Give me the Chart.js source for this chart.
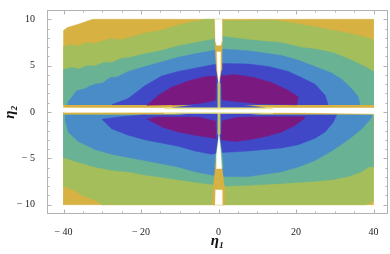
<!DOCTYPE html>
<html>
<head>
<meta charset="utf-8">
<script src="https://cdn.jsdelivr.net/npm/chart.js@4.4.1/dist/chart.umd.min.js"></script>
<style>
  html, body { margin: 0; padding: 0; background: #fff; }
  canvas { display: block; }
</style>
</head>
<body>
<canvas id="chart" width="390" height="254"></canvas>
<script>
// axis ranges and ticks
const xRange = [-44.26, 43.74];
const yRange = [-11, 11];
const xTicks = [-40, -20, 0, 20, 40];
const yTicks = [-10, -5, 0, 5, 10];
const xMinor = [-40, -35, -30, -25, -20, -15, -10, -5, 0, 5, 10, 15, 20, 25, 30, 35, 40];
const yMinor = [-10, -9, -8, -7, -6, -5, -4, -3, -2, -1, 0, 1, 2, 3, 4, 5, 6, 7, 8, 9, 10];

// contour regions (eta1, eta2), outer levels first
const upperGold = [[-40,0.45],[-40,8.8],[-39,9.1],[-36,9.5],[-32.5,10],[40,10],[40,0.45]];
const lowerGold = [[-40,-0.05],[-40,-10],[40,-10],[40,-0.05]];
const upperGreen = [[-40,0.75],[-40,7.0],[-38,7.3],[-36.5,7.1],[-34,7.5],[-32,7.4],[-28,7.9],[-25,7.8],[-19,8.5],[-15,8.8],[-10,9.4],[-7,9.7],[-3.5,10],[0,10],[0.8,9.85],[14.6,9.9],[20.6,9.5],[24.9,9.2],[29.2,8.85],[33.5,8.5],[37,8.16],[40,7.8],[40,0.75]];
const lowerGreen = [[-40,-0.3],[-40,-8.0],[-37,-8.5],[-35.3,-9.0],[-31.9,-9.5],[-30,-10],[38,-10],[40,-9.6],[40,-0.3]];
const upperTeal = [[-40,0.75],[-40,4.55],[-38,4.8],[-36,4.65],[-34,5.0],[-31.9,4.95],[-29.5,5.35],[-27.6,5.3],[-25,5.8],[-23.3,5.85],[-19,6.27],[-14.7,6.62],[-10.4,7.13],[-6.1,7.47],[-1.8,7.8],[0.8,8.16],[7.7,7.8],[16.3,7.47],[21.5,6.96],[24.9,6.8],[29.2,6.44],[33.5,5.75],[37,5.07],[40,4.38],[40,0.75]];
const lowerTeal = [[-40,-0.3],[-40,-4.9],[-36.2,-5.41],[-31.9,-5.93],[-27.6,-6.27],[-23.3,-6.44],[-19,-6.79],[-14.7,-7.03],[-10.4,-7.3],[-6.1,-7.58],[-1.8,-7.8],[0.8,-8.0],[7.7,-7.9],[16.3,-7.7],[24.9,-7.47],[29.2,-7.3],[33.5,-6.96],[37,-6.44],[38.7,-5.93],[40,-5.9],[40,-0.3]];
const upperSky = [[-39,0.75],[-38.8,1.1],[-36.6,2.3],[-34.5,2.5],[-33.2,2.8],[-31.9,3.0],[-30,3.1],[-28,3.7],[-26,3.8],[-23.3,4.38],[-19,4.9],[-14.7,5.4],[-10.4,5.9],[-6.1,6.27],[-1.8,6.6],[0.8,6.8],[7.7,6.6],[16.3,6.1],[20.6,5.58],[24.9,4.9],[29.2,4.2],[31.8,3.52],[34.4,2.5],[36.1,1.63],[36.5,0.75]];
const lowerSky = [[-39.5,-0.3],[-39.5,-1.0],[-38.8,-2.15],[-36.2,-3.18],[-31.9,-4.04],[-27.6,-4.55],[-23.3,-4.9],[-19,-5.24],[-14.7,-5.58],[-10.4,-5.93],[-6.1,-6.44],[-1.8,-6.79],[0.8,-6.96],[7.7,-6.96],[16.3,-6.44],[20.6,-5.93],[24.9,-5.24],[29.2,-4.2],[33.5,-3.0],[37,-1.8],[39.2,-0.77],[39.7,-0.3]];
const upperBlue = [[-27.5,0.75],[-27.1,0.85],[-23.3,1.46],[-19,2.83],[-14.7,3.87],[-10.4,4.38],[-6.1,4.72],[-1.8,5.07],[0.8,5.24],[7.7,5.17],[12.9,4.9],[18,4.38],[21.5,3.7],[24.9,3.0],[27.5,1.8],[28.3,0.75]];
const lowerBlue = [[-19,-0.3],[-25,-0.5],[-30.1,-0.77],[-27.6,-1.8],[-23.3,-2.5],[-19,-3.0],[-14.7,-3.35],[-10.4,-3.7],[-6.1,-4.2],[-1.8,-4.55],[0.8,-4.38],[7.7,-4.2],[16.3,-3.87],[20.6,-3.52],[24.9,-2.84],[27.5,-2.15],[29.6,-1.12],[30.5,-0.3]];
const upperPurple = [[-18.5,0.7],[-15.5,1.8],[-12.1,2.66],[-7.8,3.35],[-3.5,3.8],[0,3.87],[4.3,4.04],[9.4,3.7],[13.7,3.18],[18,2.32],[20.6,1.63],[20.2,0.77],[10,0.9],[0.8,1.3],[-0.5,1.1],[-6,0.85],[-12,0.75]];
const lowerPurple = [[-18.5,-0.77],[-16,-0.55],[0,-0.55],[22.4,-0.5],[21.9,-0.77],[19.7,-1.46],[16.3,-2.15],[12,-2.66],[7.7,-3.0],[4.3,-3.18],[0.8,-3.0],[-1.8,-2.77],[-6.1,-2.5],[-10.4,-2.15],[-14.7,-1.63]];

// singular lines along eta1 = 0 and eta2 = 0
const crossHalo = [[-12,0.45],[-4,0.9],[0,1.3],[4,0.9],[12,0.45],[12,-0.05],[4,-0.6],[0,-1.0],[-4,-0.6],[-12,-0.05]];
const upperStem = [[-0.7,0.75],[-0.4,4.2],[0.5,4.2],[0.9,0.75]];
const lowerStem = [[-0.7,-0.3],[-0.4,-3.3],[0.5,-3.3],[0.9,-0.3]];
const lowerSpikeHalo = [[0.1,-2.2],[0.9,-4.5],[1.2,-6],[-1.0,-6],[-0.7,-4.5]];
const upperGapGold = [[-1.1,10],[-0.8,6.4],[-0.5,4.5],[0.1,3.0],[0.7,4.5],[0.9,6.4],[1.1,10]];
const lowerGapGold = [[0.3,-4.8],[0.9,-6],[1.5,-8],[1.6,-10],[-1.6,-10],[-1.3,-8],[-0.8,-6],[-0.3,-4.8]];
const centerLine = [[-0.25,3.1],[0.35,3.1],[0.35,-2.4],[-0.25,-2.4]];
const lineGlow = [[-14,0.45],[14,0.45],[14,-0.15],[-14,-0.15]];
const upperGapWhite1 = [[-0.9,10],[-0.7,7.6],[-0.5,7.2],[0.6,7.2],[0.8,7.6],[0.9,10]];
const upperGapWhite2 = [[-0.4,6.5],[-0.3,4.5],[0.1,3.1],[0.5,4.5],[0.5,6.5]];
const lowerGapWhite1 = [[0.1,-2.4],[0.6,-4.5],[0.8,-6.1],[-0.6,-6.1],[-0.5,-4.5]];
const lowerGapWhite2 = [[-0.8,-8.4],[0.8,-8.4],[0.9,-10],[-0.9,-10]];
const lineWhite = [[-40,0.42],[-20,0.3],[0,0.25],[20,0.3],[40,0.35],[40,-0.2],[20,-0.05],[0,0.0],[-20,0.0],[-40,0.0]];

const GOLD = '#d7b142', GREEN = '#a3be5a', TEAL = '#6ab294', SKY = '#4a8cc8',
      BLUE = '#4048c8', PURPLE = '#7a1a80', PALE = '#e9e48e', STEM = '#c4c866', WHITE = '#ffffff';

// paint order, bottom to top
const layers = [
  [upperGold, GOLD], [lowerGold, GOLD],
  [upperGreen, GREEN], [lowerGreen, GREEN],
  [upperTeal, TEAL], [lowerTeal, TEAL],
  [upperSky, SKY], [lowerSky, SKY],
  [upperBlue, BLUE], [lowerBlue, BLUE],
  [upperPurple, PURPLE], [lowerPurple, PURPLE],
  [crossHalo, BLUE], [upperStem, BLUE], [lowerStem, BLUE], [lowerSpikeHalo, TEAL],
  [upperGapGold, GOLD], [lowerGapGold, GOLD],
  [centerLine, STEM], [lineGlow, PALE],
  [upperGapWhite1, WHITE], [upperGapWhite2, WHITE],
  [lowerGapWhite1, WHITE], [lowerGapWhite2, WHITE],
  [lineWhite, WHITE]
];

const serif = "'Liberation Serif', 'DejaVu Serif', serif";
const fmt = v => v < 0 ? '\u2212 ' + Math.abs(v) : String(v);

// Mathematica-like frame with inward ticks on all four sides
const frameTicks = {
  id: 'frameTicks',
  afterDraw(chart) {
    const { ctx, chartArea: a, scales: { x, y } } = chart;
    ctx.save();
    ctx.strokeStyle = '#b2b2b2';
    ctx.lineWidth = 1;
    ctx.strokeRect(a.left + 0.5, a.top + 0.5, a.right - a.left - 1, a.bottom - a.top - 1);
    ctx.beginPath();
    xMinor.forEach(v => {
      const p = Math.round(x.getPixelForValue(v)) + 0.5;
      const len = xTicks.includes(v) ? 4.5 : 2.5;
      ctx.moveTo(p, a.bottom); ctx.lineTo(p, a.bottom - len);
      ctx.moveTo(p, a.top); ctx.lineTo(p, a.top + len);
    });
    yMinor.forEach(v => {
      const p = Math.round(y.getPixelForValue(v)) + 0.5;
      const len = yTicks.includes(v) ? 4.5 : 2.5;
      ctx.moveTo(a.left, p); ctx.lineTo(a.left + len, p);
      ctx.moveTo(a.right, p); ctx.lineTo(a.right - len, p);
    });
    ctx.stroke();
    ctx.restore();
  }
};

new Chart(document.getElementById('chart'), {
  type: 'scatter',
  data: {
    datasets: layers.map(([pts, color], i) => ({
      data: pts.map(([x, y]) => ({ x, y })),
      showLine: true,
      fill: 'shape',
      backgroundColor: color,
      borderColor: color,
      borderWidth: 0.5,
      pointRadius: 0,
      pointHoverRadius: 0,
      order: layers.length - i
    }))
  },
  options: {
    responsive: false,
    animation: false,
    devicePixelRatio: 1,
    layout: { padding: { top: 1, right: 2, left: 0, bottom: 0 } },
    plugins: { legend: { display: false }, tooltip: { enabled: false } },
    events: [],
    scales: {
      x: {
        type: 'linear',
        min: xRange[0], max: xRange[1],
        grid: { display: false },
        border: { display: false },
        afterBuildTicks: s => { s.ticks = xTicks.map(v => ({ value: v })); },
        afterFit: s => { s.height = 40; },
        ticks: { callback: fmt, color: '#222', padding: 4, maxRotation: 0, autoSkip: false,
                 font: { family: serif, size: 10 } },
        title: { display: true, text: 'η₁', color: '#111', padding: { top: 0, bottom: 4 },
                 font: { family: serif, size: 15, weight: 'bold', style: 'italic' } }
      },
      y: {
        type: 'linear',
        min: yRange[0], max: yRange[1],
        grid: { display: false },
        border: { display: false },
        afterBuildTicks: s => { s.ticks = yTicks.map(v => ({ value: v })); },
        afterFit: s => { s.width = 47; },
        ticks: { callback: fmt, color: '#222', padding: 4, autoSkip: false,
                 font: { family: serif, size: 10 } },
        title: { display: true, text: 'η₂', color: '#111', padding: { top: 1, bottom: 0 },
                 font: { family: serif, size: 15, weight: 'bold', style: 'italic' } }
      }
    }
  },
  plugins: [frameTicks]
});
</script>
</body>
</html>
